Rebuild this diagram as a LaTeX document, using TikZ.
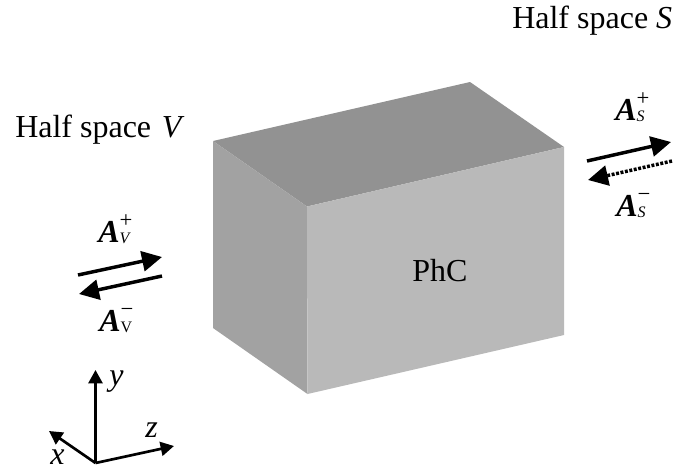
\documentclass[tikz,border=0pt]{standalone}
\usepackage{fontspec}
\setmainfont{Liberation Serif}
\usetikzlibrary{arrows.meta, positioning}
\definecolor{topgray}{RGB}{146,146,146}
\definecolor{frontgray}{RGB}{185,185,185}
\definecolor{leftgray}{RGB}{162,162,162}
\newcommand{\ampl}[2]{\textbf{\textit{A}}\rlap{\raisebox{1ex}{\fontsize{17}{17}\selectfont #1}}\raisebox{-.1ex}{\fontsize{12}{12}\selectfont #2}}
\tikzset{
    face/.style={draw=none},
    label/.style={font=\fontsize{24}{24}\selectfont, inner sep=0pt, anchor=base west},
    wave/.style={line width=2.6pt, -{Triangle[length=15pt, width=15pt]}},
    dotwave/.style={wave, dash pattern=on 2.2pt off 1.2pt},
    axis/.style={line width=2pt, -{Triangle[length=10pt, width=10.5pt]}}
}

\begin{document}
\begin{tikzpicture}[x=0.75pt, y=-0.75pt]
    \useasboundingbox (0,0) rectangle (674,469);
    % box
    \coordinate (backL) at (213,141);
    \coordinate (backT) at (470,82);
    \coordinate (backR) at (564,147);
    \coordinate (frontT) at (307,206.5);
    \coordinate (frontB) at (307.5,394);
    \coordinate (rightB) at (564,335);
    \coordinate (leftB) at (213,328);
    \fill[face, topgray] (backL) -- (backT) -- (backR) -- (frontT) -- cycle;
    \fill[face, leftgray] (backL) -- (frontT) -- (frontB) -- (leftB) -- cycle;
    \fill[face, frontgray] (frontT) -- (backR) -- (rightB) -- (frontB) -- cycle;
    \node[label] (phc) at (412,281) {PhC};
    % titles
    \node[label] (halfV) at (15,137) {Half space\hspace{2pt} \textit{V}};
    \node[label] (halfS) at (512,28) {Half space \textit{S}};
    % left waves
    \node[label] (ApV) at (98,242) {\ampl{+}{\textit{V}}};
    \node[label] (AmV) at (99,331) {\ampl{−}{V}};
    \coordinate (vpa) at (78,275);
    \coordinate (vpb) at (162,257);
    \coordinate (vma) at (162,276);
    \coordinate (vmb) at (79,294);
    \draw[wave] (vpa) -- (vpb);
    \draw[wave] (vma) -- (vmb);
    % right waves
    \node[label] (ApS) at (615,120) {\ampl{+}{\textit{S}}};
    \node[label] (AmS) at (616,216) {\ampl{−}{\textit{S}}};
    \coordinate (spa) at (587,161);
    \coordinate (spb) at (671,142);
    \coordinate (sma) at (672,161);
    \coordinate (smb) at (588,180);
    \draw[wave] (spa) -- (spb);
    \draw[dotwave] (sma) -- (smb);
    % axes
    \coordinate (origin) at (95.5,463);
    \coordinate (ytip) at (95.5,370);
    \coordinate (xtip) at (49,431);
    \coordinate (ztip) at (174,446);
    \draw[axis] (origin) -- (ytip);
    \draw[axis] (origin) -- (xtip);
    \draw[axis] (origin) -- (ztip);
    \node[label] (ylab) at (109,385) {\textit{y}};
    \node[label] (xlab) at (50,464) {\textit{x}};
    \node[label] (zlab) at (145,437) {\textit{z}};
\end{tikzpicture}
\end{document}
